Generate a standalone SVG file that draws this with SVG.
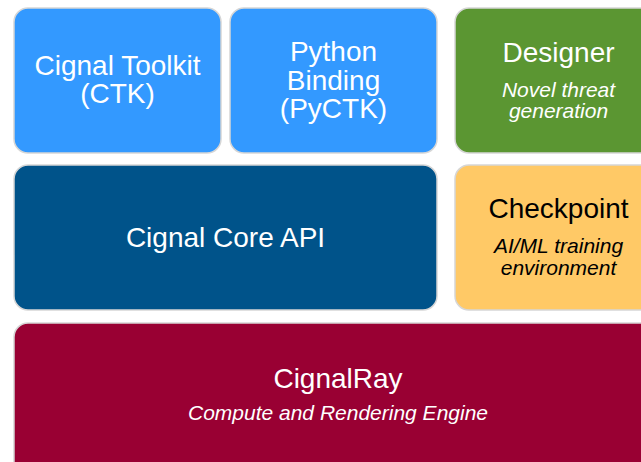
<svg xmlns="http://www.w3.org/2000/svg" width="641" height="462" viewBox="0 0 641 462">
<style>
.box{stroke:#d6d6d6;stroke-width:1.5}
.t{font-family:"Liberation Sans",Arial,sans-serif;font-size:28px;fill:#fff;text-anchor:middle}
.s{font-family:"Liberation Sans",Arial,sans-serif;font-size:21px;font-style:italic;fill:#fff;text-anchor:middle}
.dk{fill:#000}
</style>
<rect width="641" height="462" fill="#fff"/>
<g id="ctk">
<rect class="box" x="14" y="8" width="207" height="145" rx="14" fill="#3399ff"/>
<text class="t" x="117.5" y="74.5">Cignal Toolkit</text>
<text class="t" x="117.5" y="103">(CTK)</text>
</g>
<g id="pyctk">
<rect class="box" x="230" y="8" width="207" height="145" rx="14" fill="#3399ff"/>
<text class="t" x="333.5" y="61">Python</text>
<text class="t" x="333.5" y="89.5">Binding</text>
<text class="t" x="333.5" y="118">(PyCTK)</text>
</g>
<g id="designer">
<rect class="box" x="455" y="8" width="207" height="145" rx="14" fill="#5b9632"/>
<text class="t" x="558.5" y="62">Designer</text>
<text class="s" x="558.5" y="96.5">Novel threat</text>
<text class="s" x="558.5" y="118">generation</text>
</g>
<g id="core">
<rect class="box" x="14" y="165" width="423" height="145" rx="14" fill="#00538a"/>
<text class="t" x="225.5" y="247">Cignal Core API</text>
</g>
<g id="checkpoint">
<rect class="box" x="455" y="165" width="207" height="145" rx="14" fill="#ffc966"/>
<text class="t dk" x="558.5" y="218">Checkpoint</text>
<text class="s dk" x="558.5" y="253">AI/ML training</text>
<text class="s dk" x="558.5" y="274.5">environment</text>
</g>
<g id="cignalray">
<rect class="box" x="14" y="323" width="648" height="160" rx="14" fill="#990033"/>
<text class="t" x="338" y="388">CignalRay</text>
<text class="s" x="338" y="420">Compute and Rendering Engine</text>
</g>
<g id="connectors"/>
</svg>
